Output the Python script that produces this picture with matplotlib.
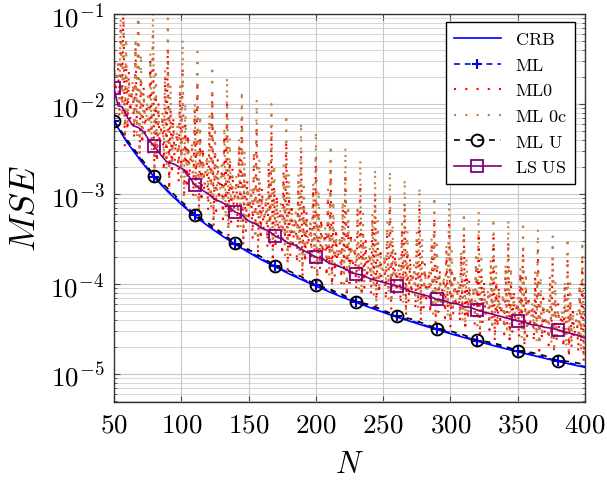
import numpy as np
import matplotlib
matplotlib.use("Agg")
import matplotlib.pyplot as plt
from matplotlib.ticker import LogLocator, NullFormatter, FixedLocator, FixedFormatter

plt.rcParams['mathtext.fontset'] = 'cm'
plt.rcParams['font.family'] = ['DejaVu Serif']

# ---------------- data ----------------
# N grid for CRB / ML / ML U (every 10)
n10 = list(range(50, 401, 10))
crb = [6.4e-3, 3.70e-3, 2.32e-3, 1.53e-3, 1.06e-3, 7.7e-4, 5.7e-4, 4.4e-4, 3.46e-4, 2.77e-4,
       2.25e-4, 1.85e-4, 1.55e-4, 1.30e-4, 1.11e-4, 9.5e-5, 8.2e-5, 7.1e-5, 6.25e-5, 5.5e-5,
       4.86e-5, 4.3e-5, 3.86e-5, 3.46e-5, 3.12e-5, 2.81e-5, 2.55e-5, 2.32e-5, 2.11e-5, 1.93e-5,
       1.77e-5, 1.63e-5, 1.50e-5, 1.38e-5, 1.28e-5, 1.19e-5]
ml = [6.4e-3, 3.78e-3, 2.40e-3, 1.55e-3, 1.09e-3, 7.9e-4, 5.8e-4, 4.55e-4, 3.55e-4, 2.80e-4,
      2.31e-4, 1.90e-4, 1.57e-4, 1.34e-4, 1.14e-4, 9.7e-5, 8.4e-5, 7.3e-5, 6.35e-5, 5.65e-5,
      4.95e-5, 4.38e-5, 3.95e-5, 3.53e-5, 3.17e-5, 2.88e-5, 2.60e-5, 2.36e-5, 2.16e-5, 1.97e-5,
      1.80e-5, 1.67e-5, 1.53e-5, 1.40e-5, 1.31e-5, 1.21e-5]
ml_u = [6.5e-3, 3.95e-3, 2.50e-3, 1.60e-3, 1.15e-3, 8.3e-4, 5.9e-4, 4.75e-4, 3.72e-4, 2.85e-4,
        2.42e-4, 1.98e-4, 1.60e-4, 1.40e-4, 1.19e-4, 9.8e-5, 8.8e-5, 7.6e-5, 6.4e-5, 5.9e-5,
        5.15e-5, 4.4e-5, 4.12e-5, 3.66e-5, 3.2e-5, 3.0e-5, 2.72e-5, 2.37e-5, 2.25e-5, 2.05e-5,
        1.81e-5, 1.74e-5, 1.60e-5, 1.41e-5, 1.37e-5, 1.27e-5]

# LS US (values read as log10 MSE)
lsus_n = [50, 53, 56, 60, 64, 68, 72, 76, 80, 84, 89, 95, 101, 106, 110, 115, 120, 125, 130, 135,
          140, 145, 150, 155, 160, 165, 170, 175, 180, 185, 190, 195, 200, 205, 210, 215, 220, 225,
          230, 235, 240, 245, 250, 255, 260, 265, 270, 275, 280, 285, 290, 295, 300, 305, 310, 315,
          320, 325, 330, 335, 340, 345, 350, 355, 360, 365, 370, 375, 380, 385, 390, 395, 400]
lsus_log10 = [-1.82, -2.02, -2.03, -2.15, -2.24, -2.26, -2.31, -2.40, -2.47, -2.55, -2.64, -2.67,
              -2.72, -2.81, -2.90, -2.95, -3.00, -3.06, -3.09, -3.14, -3.20, -3.23, -3.30, -3.33,
              -3.38, -3.41, -3.47, -3.50, -3.55, -3.57, -3.62, -3.66, -3.70, -3.72, -3.77, -3.79,
              -3.82, -3.86, -3.89, -3.90, -3.94, -3.96, -3.98, -4.00, -4.02, -4.04, -4.08, -4.10,
              -4.12, -4.14, -4.17, -4.18, -4.21, -4.22, -4.25, -4.26, -4.29, -4.31, -4.33, -4.35,
              -4.37, -4.39, -4.41, -4.42, -4.45, -4.46, -4.48, -4.49, -4.51, -4.53, -4.55, -4.57,
              -4.60]

# oscillating estimators, one value per N = 50..400 (log10 MSE)
n_all = list(range(50, 401))
ml0c_log10 = [
    -1.50, -1.78, -1.78, -1.50, -1.97, -1.04, -2.15,
    -0.50, -2.39, -1.26, -2.20, -1.73, -2.01, -2.01, -1.73, -2.20, -1.26, -2.39,
    -0.70, -2.54, -1.44, -2.36, -1.90, -2.17, -2.17, -1.90, -2.36, -1.44, -2.54,
    -0.85, -2.75, -1.61, -2.56, -2.08, -2.37, -2.37, -2.08, -2.56, -1.61, -2.75,
    -1.05, -2.87, -1.78, -2.69, -2.23, -2.51, -2.51, -2.23, -2.69, -1.78, -2.87,
    -1.28, -3.03, -1.98, -2.85, -2.42, -2.68, -2.68, -2.42, -2.85, -1.98, -3.03,
    -1.42, -3.18, -2.12, -3.00, -2.56, -2.83, -2.83, -2.56, -3.00, -2.12, -3.18,
    -1.57, -3.28, -2.25, -3.11, -2.68, -2.94, -2.94, -2.68, -3.11, -2.25, -3.28,
    -1.70, -3.39, -2.38, -3.22, -2.80, -3.05, -3.05, -2.80, -3.22, -2.38, -3.39,
    -1.85, -3.50, -2.51, -3.33, -2.92, -3.17, -3.17, -2.92, -3.33, -2.51, -3.50,
    -1.95, -3.59, -2.61, -3.43, -3.02, -3.26, -3.26, -3.02, -3.43, -2.61, -3.59,
    -2.00, -3.68, -2.67, -3.51, -3.09, -3.34, -3.34, -3.09, -3.51, -2.67, -3.68,
    -2.11, -3.77, -2.77, -3.60, -3.19, -3.44, -3.44, -3.19, -3.60, -2.77, -3.77,
    -2.20, -3.85, -2.86, -3.68, -3.27, -3.52, -3.52, -3.27, -3.68, -2.86, -3.85,
    -2.30, -3.92, -2.95, -3.76, -3.35, -3.60, -3.60, -3.35, -3.76, -2.95, -3.92,
    -2.45, -4.00, -3.07, -3.84, -3.46, -3.69, -3.69, -3.46, -3.84, -3.07, -4.00,
    -2.48, -4.07, -3.12, -3.91, -3.51, -3.75, -3.75, -3.51, -3.91, -3.12, -4.07,
    -2.62, -4.12, -3.22, -3.97, -3.59, -3.82, -3.82, -3.59, -3.97, -3.22, -4.12,
    -2.72, -4.18, -3.30, -4.03, -3.67, -3.89, -3.89, -3.67, -4.03, -3.30, -4.18,
    -2.74, -4.22, -3.33, -4.07, -3.70, -3.92, -3.92, -3.70, -4.07, -3.33, -4.22,
    -2.83, -4.28, -3.41, -4.13, -3.77, -3.99, -3.99, -3.77, -4.13, -3.41, -4.28,
    -2.92, -4.33, -3.48, -4.19, -3.84, -4.05, -4.05, -3.84, -4.19, -3.48, -4.33,
    -3.02, -4.38, -3.56, -4.24, -3.90, -4.11, -4.11, -3.90, -4.24, -3.56, -4.38,
    -3.08, -4.42, -3.62, -4.29, -3.95, -4.15, -4.15, -3.95, -4.29, -3.62, -4.42,
    -3.20, -4.46, -3.70, -4.33, -4.02, -4.21, -4.21, -4.02, -4.33, -3.70, -4.46,
    -3.19, -4.51, -3.72, -4.38, -4.05, -4.25, -4.25, -4.05, -4.38, -3.72, -4.51,
    -3.26, -4.56, -3.78, -4.43, -4.10, -4.30, -4.30, -4.10, -4.43, -3.78, -4.56,
    -3.28, -4.60, -3.81, -4.47, -4.14, -4.34, -4.34, -4.14, -4.47, -3.81, -4.60,
    -3.36, -4.64, -3.87, -4.51, -4.19, -4.38, -4.38, -4.19, -4.51, -3.87, -4.64,
    -3.39, -4.68, -3.91, -4.55, -4.23, -4.42, -4.42, -4.23, -4.55, -3.91, -4.68,
    -3.47, -4.71, -3.97, -4.59, -4.28, -4.46, -4.46, -4.28, -4.59, -3.97, -4.71,
    -3.48, -4.76, -3.99, -4.63, -4.31, -4.50, -4.50, -4.31, -4.63, -3.99, -4.76,
    -3.52, -4.80, -4.03]
ml0_log10 = [
    -1.41, -1.93, -1.69, -1.59, -2.15, -1.13, -2.00,
    -0.84, -2.48, -1.54, -2.30, -1.63, -2.16, -1.92, -1.82, -2.39, -1.35, -2.24,
    -1.03, -2.63, -1.71, -2.45, -1.80, -2.32, -2.08, -1.99, -2.54, -1.53, -2.39,
    -1.19, -2.85, -1.89, -2.65, -1.99, -2.52, -2.27, -2.18, -2.75, -1.70, -2.60,
    -1.38, -2.96, -2.05, -2.78, -2.14, -2.65, -2.41, -2.32, -2.87, -1.87, -2.72,
    -1.59, -3.12, -2.24, -2.94, -2.33, -2.82, -2.59, -2.50, -3.03, -2.07, -2.89,
    -1.74, -3.27, -2.39, -3.09, -2.48, -2.97, -2.74, -2.65, -3.18, -2.21, -3.04,
    -1.88, -3.37, -2.51, -3.19, -2.60, -3.07, -2.85, -2.77, -3.28, -2.34, -3.14,
    -2.00, -3.47, -2.63, -3.31, -2.71, -3.19, -2.97, -2.88, -3.39, -2.46, -3.25,
    -2.15, -3.58, -2.76, -3.42, -2.84, -3.30, -3.09, -3.00, -3.50, -2.59, -3.37,
    -2.25, -3.67, -2.85, -3.51, -2.93, -3.39, -3.18, -3.10, -3.59, -2.69, -3.46,
    -2.30, -3.76, -2.92, -3.60, -3.01, -3.48, -3.26, -3.18, -3.68, -2.76, -3.55,
    -2.41, -3.85, -3.02, -3.69, -3.11, -3.57, -3.35, -3.27, -3.77, -2.86, -3.64,
    -2.50, -3.93, -3.11, -3.77, -3.19, -3.65, -3.44, -3.35, -3.85, -2.94, -3.72,
    -2.59, -4.00, -3.19, -3.84, -3.27, -3.73, -3.51, -3.43, -3.92, -3.03, -3.79,
    -2.73, -4.08, -3.30, -3.92, -3.38, -3.81, -3.61, -3.53, -4.00, -3.15, -3.88,
    -2.77, -4.15, -3.35, -3.99, -3.43, -3.88, -3.67, -3.59, -4.07, -3.20, -3.94,
    -2.89, -4.20, -3.44, -4.04, -3.52, -3.94, -3.74, -3.67, -4.12, -3.29, -4.00,
    -2.98, -4.25, -3.52, -4.11, -3.60, -4.00, -3.81, -3.74, -4.18, -3.38, -4.06,
    -3.01, -4.29, -3.55, -4.15, -3.63, -4.04, -3.85, -3.78, -4.22, -3.41, -4.10,
    -3.09, -4.35, -3.63, -4.21, -3.70, -4.11, -3.92, -3.84, -4.28, -3.48, -4.16,
    -3.17, -4.40, -3.70, -4.26, -3.77, -4.16, -3.98, -3.91, -4.33, -3.55, -4.22,
    -3.26, -4.45, -3.77, -4.31, -3.84, -4.22, -4.04, -3.97, -4.38, -3.63, -4.27,
    -3.32, -4.49, -3.82, -4.35, -3.88, -4.26, -4.08, -4.02, -4.42, -3.68, -4.31,
    -3.43, -4.52, -3.89, -4.40, -3.96, -4.31, -4.14, -4.08, -4.46, -3.77, -4.36,
    -3.43, -4.58, -3.92, -4.44, -3.98, -4.35, -4.18, -4.11, -4.51, -3.78, -4.40,
    -3.49, -4.63, -3.97, -4.49, -4.04, -4.40, -4.23, -4.17, -4.56, -3.84, -4.46,
    -3.52, -4.67, -4.01, -4.53, -4.07, -4.44, -4.27, -4.20, -4.60, -3.87, -4.49,
    -3.59, -4.70, -4.06, -4.58, -4.13, -4.49, -4.32, -4.26, -4.64, -3.94, -4.54,
    -3.62, -4.74, -4.10, -4.62, -4.16, -4.53, -4.36, -4.29, -4.68, -3.97, -4.58,
    -3.69, -4.77, -4.15, -4.65, -4.21, -4.56, -4.40, -4.34, -4.71, -4.03, -4.61,
    -3.71, -4.82, -4.18, -4.70, -4.25, -4.61, -4.44, -4.38, -4.76, -4.06, -4.66,
    -3.75, -4.86, -4.22]

marker_n = [50, 80, 110, 140, 170, 200, 230, 260, 290, 320, 350, 380]

xticks = [50, 100, 150, 200, 250, 300, 350, 400]
xtick_labels = ['$50$', '$100$', '$150$', '$200$', '$250$', '$300$', '$350$', '$400$']
yticks = [1e-5, 1e-4, 1e-3, 1e-2, 1e-1]
ytick_labels = ['$10^{-5}$', '$10^{-4}$', '$10^{-3}$', '$10^{-2}$', '$10^{-1}$']

# ---------------- plot ----------------
fig = plt.figure(figsize=(6.07, 4.81), dpi=100)
ax = fig.add_axes([114 / 607, 1 - 403 / 481, 471 / 607, 388 / 481])

blue = (0, 0, 1)
red = (1, 0, 0)
brown = (0.75, 0.5, 0.25)
purple = (0.5, 0, 0.5)

mk10 = [n10.index(v) for v in marker_n]
mkls = [lsus_n.index(v) for v in marker_n]

ax.plot(n10, crb, color=blue, lw=1.2, label=r'$\mathrm{CRB}$', zorder=3)
ax.plot(n10, ml, color=blue, lw=1.2, dashes=(3.5, 3), marker='+', markersize=7,
        markeredgewidth=1.5, markevery=mk10, label=r'$\mathrm{ML}$', zorder=3)
ax.plot(n_all, 10.0 ** np.array(ml0_log10), color=red, lw=1.5, dashes=(1.0, 4.4),
        label=r'$\mathrm{ML0}$', zorder=2)
ax.plot(n_all, 10.0 ** np.array(ml0c_log10), color=brown, lw=1.5, dashes=(1.0, 4.4),
        label=r'$\mathrm{ML\ 0c}$', zorder=2)
ax.plot(n10, ml_u, color='black', lw=1.2, dashes=(3.5, 3.5), marker='o', markersize=8.5,
        markerfacecolor='none', markeredgewidth=1.4, markevery=mk10,
        label=r'$\mathrm{ML\ U}$', zorder=4)
ax.plot(lsus_n, 10.0 ** np.array(lsus_log10), color=purple, lw=1.2, marker='s',
        markersize=8.5, markerfacecolor='none', markeredgewidth=1.3, markevery=mkls,
        label=r'$\mathrm{LS\ US}$', zorder=4)

ax.set_yscale('log')
ax.set_xlim(50, 400)
ax.set_ylim(10 ** -5.31, 1e-1)

ax.xaxis.set_major_locator(FixedLocator(xticks))
ax.xaxis.set_major_formatter(FixedFormatter(xtick_labels))
ax.yaxis.set_major_locator(FixedLocator(yticks))
ax.yaxis.set_major_formatter(FixedFormatter(ytick_labels))
ax.yaxis.set_minor_locator(LogLocator(base=10, subs=np.arange(2, 10), numticks=20))
ax.yaxis.set_minor_formatter(NullFormatter())

ax.grid(True, which='major', color='#c8c8c8', lw=0.8)
ax.grid(True, which='minor', axis='y', color='#d0d0d0', lw=0.6)
ax.set_axisbelow(True)

ax.tick_params(which='both', direction='in', top=True, right=True, color='#444444')
ax.tick_params(which='major', length=4, width=0.8, labelsize=19.5)
ax.tick_params(axis='x', which='major', pad=6)
ax.tick_params(axis='y', which='major', pad=7)
ax.tick_params(which='minor', length=2.5, width=0.6)
for s in ax.spines.values():
    s.set_color('#333333')
    s.set_linewidth(1.0)

ax.set_xlabel(r'$N$', fontsize=22, labelpad=8)
ax.set_ylabel(r'$MSE$', fontsize=26, labelpad=6)

leg = ax.legend(loc='upper right', bbox_to_anchor=(0.979, 0.979), borderaxespad=0,
                fontsize=13, frameon=True, fancybox=False, edgecolor='black',
                framealpha=1, handlelength=2.6, labelspacing=0.42, borderpad=0.45,
                handletextpad=0.8, numpoints=1)
leg.get_frame().set_linewidth(1.0)

fig.savefig('out.png', dpi=100)
